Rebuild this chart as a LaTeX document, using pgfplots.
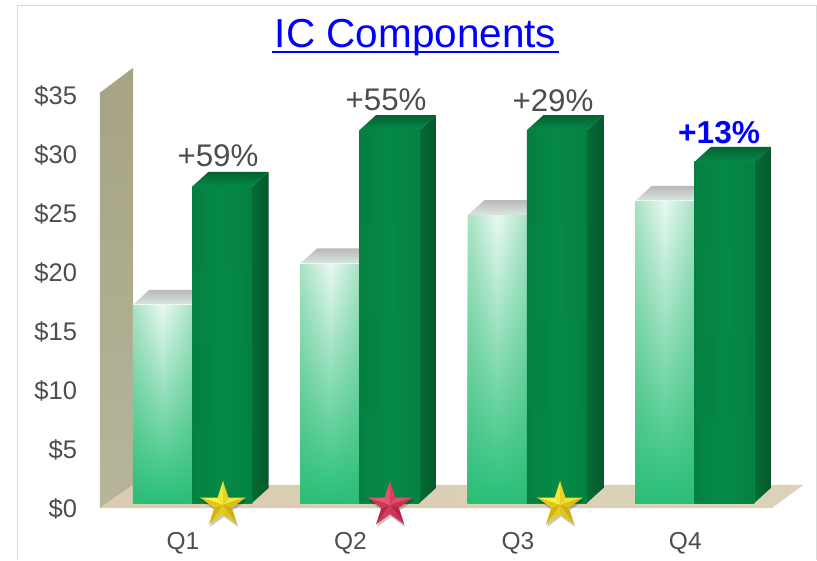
\documentclass[border=0pt]{standalone}
\usepackage{pgfplots}
\pgfplotsset{compat=1.18}
\usepackage{fontspec}
\setmainfont{Liberation Sans}
\usetikzlibrary{fadings}
\definecolor{txt}{HTML}{4D4D4D}
\definecolor{wallc}{HTML}{A6A484}
\definecolor{floorc}{HTML}{D8CDB0}
\definecolor{dkT}{HTML}{058A46}
\definecolor{dkM}{HTML}{04A455}
\definecolor{dkB}{HTML}{048C46}
\definecolor{dkE}{HTML}{056C35}
\definecolor{ltT}{HTML}{EAF9F2}
\definecolor{ltM}{HTML}{8FE0B8}
\definecolor{ltB}{HTML}{28C078}
\definecolor{ltE}{HTML}{2DB870}
\definecolor{goldH}{HTML}{FFF03A}
\definecolor{goldL}{HTML}{C09800}
\definecolor{redH}{HTML}{F2557A}
\definecolor{redL}{HTML}{A81234}
\tikzfading[name=edges,left color=transparent!65,right color=transparent!65,middle color=transparent!100]
\newcommand\facet[7]{%
  \pgfsetfillcolor{#1!#3!#2}%
  \pgfpathmoveto{\pgfqpoint{0pt}{0pt}}%
  \pgfpathlineto{\pgfqpoint{#4pt}{#5pt}}%
  \pgfpathlineto{\pgfqpoint{#6pt}{#7pt}}%
  \pgfpathclose\pgfusepath{fill}}
\newcommand\starmark[3]{%
\pgfdeclareplotmark{#1}{%
  \pgfsetstrokecolor{black}%
  \begin{pgfscope}%
  \pgfsetfillopacity{.22}\pgfsetfillcolor{black}%
  \pgftransformshift{\pgfqpoint{1pt}{-2.5pt}}%
  \pgfpathmoveto{\pgfqpoint{0pt}{24pt}}%
  \pgfpathlineto{\pgfqpoint{-5.41pt}{7.44pt}}\pgfpathlineto{\pgfqpoint{-22.83pt}{7.42pt}}%
  \pgfpathlineto{\pgfqpoint{-8.75pt}{-2.84pt}}\pgfpathlineto{\pgfqpoint{-14.11pt}{-19.42pt}}%
  \pgfpathlineto{\pgfqpoint{0pt}{-9.2pt}}\pgfpathlineto{\pgfqpoint{14.11pt}{-19.42pt}}%
  \pgfpathlineto{\pgfqpoint{8.75pt}{-2.84pt}}\pgfpathlineto{\pgfqpoint{22.83pt}{7.42pt}}%
  \pgfpathlineto{\pgfqpoint{5.41pt}{7.44pt}}\pgfpathclose\pgfusepath{fill}%
  \end{pgfscope}%
  \facet{#2}{#3}{90}{0}{24}{-5.41}{7.44}%
  \facet{#2}{#3}{65}{0}{24}{5.41}{7.44}%
  \facet{#2}{#3}{85}{22.83}{7.42}{5.41}{7.44}%
  \facet{#2}{#3}{45}{22.83}{7.42}{8.75}{-2.84}%
  \facet{#2}{#3}{25}{14.11}{-19.42}{8.75}{-2.84}%
  \facet{#2}{#3}{50}{14.11}{-19.42}{0}{-9.2}%
  \facet{#2}{#3}{60}{-14.11}{-19.42}{0}{-9.2}%
  \facet{#2}{#3}{30}{-14.11}{-19.42}{-8.75}{-2.84}%
  \facet{#2}{#3}{100}{-22.83}{7.42}{-5.41}{7.44}%
  \facet{#2}{#3}{55}{-22.83}{7.42}{-8.75}{-2.84}%
}}
\starmark{goldstar}{goldH}{goldL}
\starmark{redstar}{redH}{redL}
\pgfplotsset{base/.style={scale only axis,width=672pt,height=413pt,
  xmin=-0.4958,xmax=3.518,ymin=0,ymax=35,clip=false}}
\newcommand\topface[4]{%
  \pgfmathsetmacro\xa{#1+0.0986}\pgfmathsetmacro\xb{#2+0.0986}\pgfmathsetmacro\vb{#3+1.27}%
  \addplot[draw=none,shade,#4] coordinates {(#1,#3) (#2,#3) (\xb,\vb) (\xa,\vb) (#1,#3)};
}
\newcommand\sideface[2]{%
  \pgfmathsetmacro\xb{#1+0.0986}\pgfmathsetmacro\vb{#2+1.27}%
  \addplot[draw=none,shade,left color=dkE,right color=dkE!82!black] coordinates {(#1,0) (\xb,1.27) (\xb,\vb) (#1,#2) (#1,0)};
}
\newcommand\lightbar[2]{%
  \addplot[ybar,bar width=59.5pt,bar shift=-20.5pt,draw=none,shade,top color=ltT,middle color=ltM,bottom color=ltB] coordinates {(#1,#2)};
  \addplot[ybar,bar width=59.5pt,bar shift=-20.5pt,draw=none,fill=ltE,path fading=edges,fit fading=true] coordinates {(#1,#2)};
}
\newcommand\darkbar[2]{%
  \addplot[ybar,bar width=60pt,bar shift=39pt,draw=none,shade,top color=dkT,middle color=dkM,bottom color=dkB] coordinates {(#1,#2)};
  \addplot[ybar,bar width=60pt,bar shift=39pt,draw=none,fill=dkE,path fading=edges,fit fading=true] coordinates {(#1,#2)};
}
\begin{document}
\begin{tikzpicture}[x=1pt,y=1pt]
\path[use as bounding box] (-100,-52) rectangle (717,508);
\draw[black!14,line width=1pt] (-82,-52) -- (-82,502) -- (716,502) -- (716,-52);
\node[text=blue,font=\fontsize{40.5}{44}\selectfont,anchor=base,inner sep=0pt] at (315.5,460)
  {\rlap{\kern-3pt\rule[-5.5pt]{287pt}{2pt}}IC Components};
\begin{axis}[base,
  axis line style={draw=none},
  major tick length=0pt,
  xtick={0,1,2,3},xticklabels={Q1,Q2,Q3,Q4},
  ytick={0,5,10,15,20,25,30,35},
  yticklabels={\$0,\$5,\$10,\$15,\$20,\$25,\$30,\$35},
  tick label style={text=txt},
  yticklabel style={font=\fontsize{25.5}{28}\selectfont,xshift=-19.5pt,yshift=-1pt},
  xticklabel style={font=\fontsize{24.5}{28}\selectfont,anchor=base,yshift=-41pt},
]
\addplot[draw=none,shade,top color=wallc,middle color=wallc,bottom color=wallc!82!white] coordinates {(-0.4958,0) (-0.4958,35.2) (-0.2986,37.3) (-0.2986,1.95) (-0.4958,0)};
\addplot[draw=none,shade,left color=floorc,right color=floorc!90!white] coordinates {(-0.4958,0) (-0.2986,1.95) (3.705,1.95) (3.518,0) (-0.4958,0)};
\end{axis}
\begin{axis}[base,yshift=5pt,hide axis]
\topface{-0.2987}{0.0538}{16.8}{bottom color=ltT!85!gray,top color=gray!55!white}
\topface{0.7013}{1.0538}{20.3}{bottom color=ltT!85!gray,top color=gray!55!white}
\topface{1.7013}{2.0538}{24.4}{bottom color=ltT!85!gray,top color=gray!55!white}
\topface{2.7013}{3.0538}{25.6}{bottom color=ltT!85!gray,top color=gray!55!white}
\lightbar{0}{16.8}
\lightbar{1}{20.3}
\lightbar{2}{24.4}
\lightbar{3}{25.6}
\sideface{0.4122}{26.8}
\sideface{1.4122}{31.6}
\sideface{2.4122}{31.6}
\sideface{3.4122}{28.9}
\topface{0.0538}{0.4122}{26.8}{bottom color=dkT,top color=dkE!90!black}
\topface{1.0538}{1.4122}{31.6}{bottom color=dkT,top color=dkE!90!black}
\topface{2.0538}{2.4122}{31.6}{bottom color=dkT,top color=dkE!90!black}
\topface{3.0538}{3.4122}{28.9}{bottom color=dkT,top color=dkE!90!black}
\darkbar{0}{26.8}
\darkbar{1}{31.6}
\darkbar{2}{31.6}
\darkbar{3}{28.9}
\addplot[only marks,mark=goldstar] coordinates {(0.239,-0.17) (2.252,-0.17)};
\addplot[only marks,mark=redstar] coordinates {(1.237,-0.17)};
\node[anchor=base,text=txt,font=\fontsize{31.3}{34}\selectfont,inner sep=0pt] at (axis cs:0.209,28.5) {+59\%};
\node[anchor=base,text=txt,font=\fontsize{31.3}{34}\selectfont,inner sep=0pt] at (axis cs:1.213,33.3) {+55\%};
\node[anchor=base,text=txt,font=\fontsize{31.3}{34}\selectfont,inner sep=0pt] at (axis cs:2.21,33.2) {+29\%};
\node[anchor=base,text=blue,font=\bfseries\fontsize{31.7}{34}\selectfont,inner sep=0pt] at (axis cs:3.202,30.5) {+13\%};
\end{axis}
\end{tikzpicture}
\end{document}
